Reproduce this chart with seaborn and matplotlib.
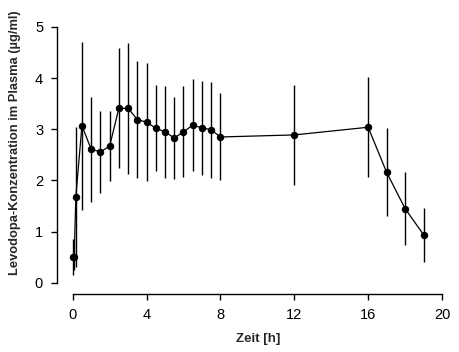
import matplotlib
matplotlib.use("Agg")
import matplotlib.pyplot as plt
import seaborn as sns
import pandas as pd
import numpy as np

zeit = [0, 0.08, 0.17, 0.5, 1, 1.5, 2, 2.5, 3, 3.5, 4, 4.5, 5, 5.5, 6, 6.5, 7, 7.5, 8, 12, 16, 17, 18, 19]
konz = [0.50, 0.50, 1.68, 3.07, 2.61, 2.56, 2.67, 3.41, 3.41, 3.19, 3.14, 3.02, 2.95, 2.83,
        2.95, 3.08, 3.03, 2.99, 2.85, 2.89, 3.04, 2.16, 1.45, 0.94]
sd = [0.35, 0.26, 1.37, 1.64, 1.03, 0.80, 0.69, 1.17, 1.28, 1.14, 1.16, 0.84, 0.90, 0.81,
      0.89, 0.90, 0.92, 0.94, 0.85, 0.98, 0.98, 0.86, 0.72, 0.53]

xticks = [0, 4, 8, 12, 16, 20]
yticks = [0, 1, 2, 3, 4, 5]

df = pd.DataFrame({"Zeit": zeit, "Konz": konz, "SD": sd})

sns.set_style("ticks")
plt.rcParams["font.family"] = ["Liberation Sans", "DejaVu Sans"]

fig = plt.figure(figsize=(4.6, 3.52), dpi=100)
ax = fig.add_axes([57 / 460, 1 - 294 / 352, (442 - 57) / 460, (294 - 27) / 352])

ax.errorbar(df["Zeit"], df["Konz"], yerr=df["SD"], fmt="none", ecolor="black",
            elinewidth=1.0, capsize=0, zorder=2)
sns.lineplot(data=df, x="Zeit", y="Konz", color="black", linewidth=0.9,
             marker="o", markersize=4.6, markeredgecolor="black", ax=ax, zorder=3)

ax.set_xlim(-0.85, 20)
ax.set_ylim(-0.22, 5)
ax.set_xticks(xticks)
ax.set_yticks(yticks)
ax.set_xticklabels([str(v) for v in xticks])
ax.set_yticklabels([str(v) for v in yticks])

for s in ["top", "right"]:
    ax.spines[s].set_visible(False)
ax.spines["left"].set_bounds(0, 5)
ax.spines["bottom"].set_bounds(0, 20)
for s in ["left", "bottom"]:
    ax.spines[s].set_linewidth(1.0)
    ax.spines[s].set_color("black")

ax.tick_params(axis="both", direction="out", length=4, width=1.0, colors="black",
               labelsize=10.5, pad=6)

ax.set_xlabel("Zeit [h]", fontsize=9.5, fontweight="bold")
ax.set_ylabel("Levodopa-Konzentration im Plasma (µg/ml)", fontsize=9.3,
              fontweight="bold")
ax.xaxis.set_label_coords((258 - 57) / 385, (294 - 333) / 267)
ax.yaxis.set_label_coords((21 - 57) / 385, (294 - 142.5) / 267)

fig.savefig("out.png", dpi=100)
